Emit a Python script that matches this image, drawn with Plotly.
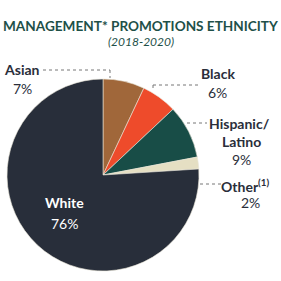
import plotly.graph_objects as go

W = H = 281
labels = ["Asian", "Black", "Hispanic/Latino", "Other", "White"]
values = [7, 6, 9, 2, 76]
colors = ["#A0673A", "#EE4B2B", "#184D47", "#E5DFC3", "#282E3A"]
pct_text = ["7%", "6%", "9%", "2%", "76%"]

def px(x):
    return x / W

def py(y):
    return 1 - y / H

fig = go.Figure(go.Pie(
    labels=labels, values=values, sort=False, direction="clockwise", rotation=0,
    marker=dict(colors=colors, line=dict(color="#E8E4D6", width=0.6)),
    textinfo="none", hoverinfo="label+percent", showlegend=False,
    domain=dict(x=[px(7), px(199)], y=[py(271), py(79)]),
))

dark = "#2A2E3A"
FONT = "Lato"
ann = []
def add(text, x, y, size=14, color=dark, bold=False, anchor="center"):
    t = f"<b>{text}</b>" if bold else text
    ann.append(dict(text=t, x=px(x), y=py(y), xref="paper", yref="paper",
                    xanchor=anchor, yanchor="middle", showarrow=False,
                    font=dict(family=FONT, size=size, color=color)))

add("MANAGEMENT* PROMOTIONS ETHNICITY", 140.5, 26, size=13.6, color="#1E5048", bold=True)
add("<i>(2018-2020)</i>", 140.5, 42, size=12, color="#1E5048")

add(labels[0], 22, 69.5, bold=True)
add(pct_text[0], 22, 88)
add(labels[1], 218, 73.5, bold=True)
add(pct_text[1], 218, 92)
add("Hispanic/", 239, 123, bold=True)
add("Latino", 241, 141, bold=True)
add(pct_text[2], 241, 159)
add("Other<sup>(1)</sup>", 245, 185, bold=True)
add(pct_text[3], 250, 202)
add(labels[4], 64.5, 202, color="white", bold=True)
add(pct_text[4], 64.5, 223, color="white")

shapes = []
def seg(x0, y0, x1, y1):
    shapes.append(dict(type="line", xref="paper", yref="paper",
                       x0=px(x0), y0=py(y0), x1=px(x1), y1=py(y1),
                       line=dict(color="#777777", width=1, dash="dot")))

seg(43, 70, 110, 70)
seg(110, 70, 110, 78)
seg(153, 85, 199, 85)
seg(153, 85, 153, 89)
seg(187, 123, 207, 123)
seg(200, 184, 221, 184)

fig.update_layout(width=W, height=H, margin=dict(l=0, r=0, t=0, b=0),
                  paper_bgcolor="white", plot_bgcolor="white",
                  annotations=ann, shapes=shapes)
fig.write_html("out.html")
